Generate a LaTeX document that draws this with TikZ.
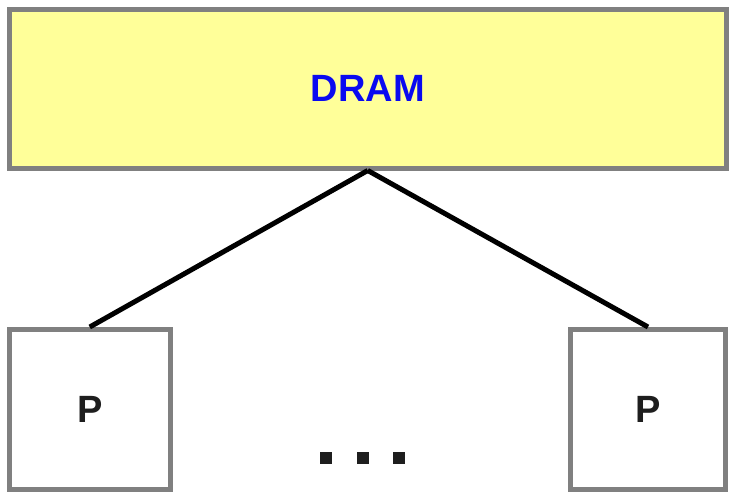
\documentclass[tikz,border=0pt]{standalone}
\usepackage{fontspec}
\setmainfont{Liberation Sans}
\definecolor{boxgray}{HTML}{808080}
\definecolor{dramyellow}{HTML}{FFFF99}
\definecolor{dramblue}{HTML}{0A0AF0}
\definecolor{ink}{HTML}{1E1E1E}
\begin{document}
\begin{tikzpicture}[x=1pt,y=-1pt,
  box/.style={draw=boxgray,line width=5pt,rectangle,inner sep=0pt,font=\bfseries\fontsize{38}{40}\selectfont},
  link/.style={line width=5pt,draw=black},
  dot/.style={fill=ink,rectangle,minimum size=12pt,inner sep=0pt}]
\useasboundingbox (0,0) rectangle (730,492);
\node[box,fill=dramyellow,text=dramblue,minimum width=716.5pt,minimum height=158.5pt] (dram) at (367.75,88.75) {DRAM};
\node[box,fill=white,text=ink,minimum width=160.5pt,minimum height=160pt] (p1) at (89.75,409.5) {P};
\node[box,fill=white,text=ink,minimum width=155pt,minimum height=160pt] (p2) at (648,409.5) {P};
\draw[link] (dram.south) -- (p1.north);
\draw[link] (dram.south) -- (p2.north);
\node[dot] (d1) at (326,458) {};
\node[dot] (d2) at (363,458) {};
\node[dot] (d3) at (399,458) {};
\end{tikzpicture}
\end{document}
